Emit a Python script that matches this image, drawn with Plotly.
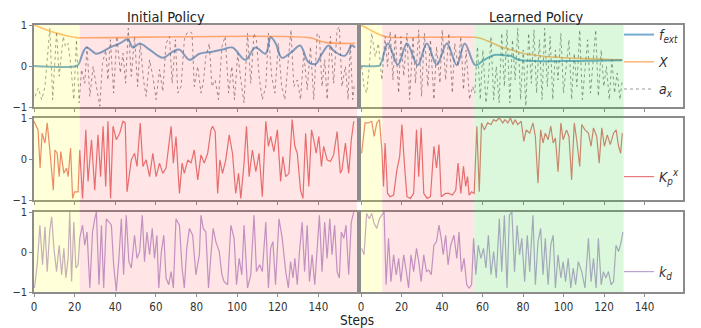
import plotly.graph_objects as go
from plotly.subplots import make_subplots

# ---------------- data ----------------
# Initial policy
init_fext_steps = [0, 21, 22, 25.8, 30.7, 37.3, 42.2, 46.2, 48.7, 52, 56.9, 63.4, 68.3, 71.6, 76.5, 81.4, 87.9,
                   92.8, 97.7, 104, 109, 114, 116.5, 119, 122, 127, 131, 135, 138.6, 141.8, 145, 148, 153, 156.5, 158]
init_fext = [0, 0, 0.05, 0.45, 0.3, 0.45, 0.55, 0.65, 0.45, 0.55, 0.4, 0.2, 0.35, 0.4, 0.15, 0.3, 0.35,
             0.4, 0.45, 0.15, 0.45, 0.3, 0.7, 0.55, 0.2, 0.35, 0.5, 0.1, 0.05, 0.3, 0.5, 0.35, 0.25, 0.5, 0.45]

init_X_steps = [0, 4, 8, 12, 16, 20, 22, 136, 140, 144, 158]
init_X = [1.0, 0.92, 0.85, 0.79, 0.74, 0.70, 0.69, 0.69, 0.62, 0.57, 0.55]

init_ax_steps = [0.5, 2.1, 3.8, 5.4, 7.8, 9.2, 11.1, 12.4, 14.4, 15.5, 16.8, 18, 19.6, 20.9, 22.2, 23.4, 25, 26.1,
                 27.5, 29.1, 30.7, 32.4, 33.7, 35.3, 36.4, 37.6, 39.2, 40.8, 42.5, 43.8, 45.1, 46.4, 47.9, 49.5,
                 51, 52.3, 53.9, 55.2, 56.9, 58.5, 60.1, 61.8, 63.4, 65, 66.7, 68, 69.6, 70.8, 72.4, 74, 75.2,
                 76.5, 77.8, 78.9, 80.6, 82.2, 83.3, 84.6, 86.3, 87.6, 89.2, 90.8, 92.5, 94.1, 95.8, 97.4, 98.7,
                 100.3, 101.8, 103.4, 105.1, 106.7, 108.3, 109.5, 110.8, 112.4, 114.1, 115.4, 117, 118.6, 120.3,
                 121.9, 123.5, 125.2, 126.5, 127.9, 129.6, 131.2, 132.8, 134.5, 136.1, 137.7, 139.4, 140.5, 141.8,
                 143.1, 144.3, 145.9, 147.5, 149.2, 150.3, 151.6, 153.3, 154.6, 155.7, 156.9, 157.8]
init_ax = [-0.74, -0.54, -0.82, -0.5, 0.92, -0.82, 0.84, -0.25, 0.72, 0.47, 0.55, 0.07, -0.82, 0.64, -0.9, -0.09,
           -0.42, 0.47, -0.74, -0.01, -0.5, -0.98, 0.07, 0.39, -0.34, 0.64, -0.66, 0.72, -0.17, 0.31, -0.42, 0.92,
           -0.25, 0.72, -0.5, 0.55, -0.34, -0.74, 0.15, -0.25, -0.82, -0.09, -0.62, 0.55, 0.72, -0.42, 0.64, -0.66,
           -0.5, 0.64, 0.8, 0.84, 0.8, -0.5, -0.01, -0.66, -0.42, 0.23, 0.55, -0.5, -0.34, -0.82, 0.47, 0.72, -0.66,
           -0.01, -0.82, 0.31, -0.34, -0.9, 0.8, -0.42, 0.8, 0.64, -0.25, -0.82, -0.5, 0.8, -0.25, -0.66, 0.55,
           -0.5, -0.82, 0.23, 0.88, -0.5, -0.34, -0.82, 0.31, -0.58, 0.47, -0.82, 0.8, 0.72, -0.5, 0.15, -0.82,
           0.72, -0.42, 0.88, 0.96, -0.5, -0.01, -0.82, 0.55, -0.82, -0.42]

init_kp_steps = [0, 2, 3, 4, 5.4, 6.5, 7.8, 9.5, 10.3, 11.4, 12.4, 13.2, 14.7, 16, 16.8, 18, 19, 20, 21.7, 22.5,
                 23.9, 25.5, 26.6, 28.3, 29.9, 31.5, 32.8, 34, 35.3, 36.4, 37.7, 38.9, 40.5, 42.2, 43.8, 44.9, 45.8,
                 47.9, 49.5, 50.7, 52.3, 53.6, 55.2, 56.9, 58.5, 60.1, 61.8, 63.4, 65, 67.5, 68.6, 69.9, 71.6, 72.9,
                 74, 75.7, 77.3, 78.9, 80.6, 82.2, 83.8, 85.5, 87.1, 87.9, 89.2, 90.4, 91.5, 92.8, 94.4, 96.1, 97.7,
                 99.3, 100.7, 101.8, 103.4, 104.6, 105.9, 107.5, 109.2, 110.8, 112.4, 114.1, 115.4, 116.5, 118.1,
                 119.8, 121.4, 122.5, 123.9, 125.5, 127.1, 128.4, 129.6, 131.2, 132.4, 133.7, 135.3, 136.6, 137.7,
                 138.9, 140.2, 141.5, 142.6, 144.3, 145.9, 147.5, 149.2, 150.8, 151.6, 153.3, 154.9, 156.2, 157.4]
init_kp = [0.92, 0.71, -0.22, 0.63, 0.39, 0.88, 0.22, -0.76, 0.22, 0.14, -0.43, 0.18, -0.35, -0.22, -0.43, 0.27,
           -0.96, -0.80, -0.80, 0.22, -0.96, 0.71, -0.55, 0.47, -0.76, 0.59, -0.43, 0.80, -0.67, 0.92, -0.96, 0.80,
           0.47, 0.63, 0.92, 0.88, -0.80, -0.02, 0.14, -0.18, 0.88, -0.18, -0.02, -0.43, 0.14, -0.43, -0.10, -0.35,
           -0.22, 0.80, -0.10, 0.55, -0.84, -0.10, -0.35, -0.02, -0.10, 0.22, -0.51, 0.10, -0.10, 0.14, 0.71, 0.80,
           0.67, -0.84, -0.02, -0.35, -0.02, 0.59, 0.14, -0.84, -0.35, -0.96, -0.10, 0.80, -0.43, 0.22, -0.31, 0.14,
           -0.92, 0.92, 0.31, 0.55, 0.18, 0.71, -0.55, 0.06, -0.43, -0.35, 0.96, 0.31, 0.14, -0.76, -0.96, 0.63,
           -0.67, 0.71, 0.47, 0.14, 0.55, -0.18, 0.31, -0.02, -0.06, 0.10, 0.67, -0.35, -0.27, 0.39, -0.35, 0.47, 0.92]

init_kd_steps = [0.2, 1.6, 2.9, 4.2, 5.4, 6.5, 7.8, 8.7, 9.8, 11.1, 12.4, 13.6, 14.7, 15.7, 16.8, 17.6, 18.5, 19.6,
                 20.6, 21.7, 22.5, 23.9, 25, 26.1, 27.5, 28.8, 29.9, 30.7, 32, 33.2, 34.3, 35.6, 36.9, 38.1, 39.2,
                 40.5, 41.8, 43, 44.1, 45.4, 46.7, 47.9, 49.5, 50.7, 52, 53.3, 54.4, 55.6, 56.9, 58.2, 59.3, 60.5,
                 61.4, 62.7, 63.9, 65, 66.3, 67.5, 68.6, 69.9, 71.6, 72.9, 74, 75.2, 76.5, 78.1, 79.7, 81.4, 82.2,
                 83.3, 84.6, 85.9, 87.1, 88.2, 89.5, 91.2, 92.5, 93.6, 95.3, 96.9, 98.5, 99.7, 101, 102.3, 103.4,
                 105.1, 106.7, 108.3, 109.5, 111.1, 112.4, 114.1, 115.4, 116.5, 117.6, 118.9, 120.6, 122.2, 123.9,
                 125.2, 126.3, 127.5, 128.4, 129.6, 130.7, 132, 133.2, 134.5, 135.6, 136.9, 138.2, 139.4, 140.5,
                 141.8, 143.1, 144.3, 145.6, 146.7, 148, 149.2, 150.3, 151.3, 152.5, 153.6, 154.9, 156.2, 157.4]
init_kd = [-0.90, -0.32, 0.67, -0.32, 0.63, -0.49, 0.55, 0.88, 0.09, -0.49, 0.17, -0.57, 0.09, -0.65, -0.16, 1.0,
           -0.74, 0.75, -0.40, -0.32, 0.34, 0.67, 0.17, 0.50, -0.90, 0.50, 0.83, 1.0, -0.82, 0.67, -0.90, 0.83, 0.75,
           0.67, -0.32, -0.98, -0.16, 0.83, -0.57, 0.92, -0.24, -0.40, 0.42, -0.16, 0.01, 0.92, -0.24, 0.50, -0.07,
           0.59, -0.16, 0.42, -0.90, 0.01, 0.42, -0.65, -0.82, -0.49, -0.90, 0.83, 0.67, -0.40, -0.90, 0.09, 0.59,
           0.42, -0.57, -0.07, 0.92, 0.59, 0.50, -0.90, -0.07, 0.59, 0.26, 0.01, -0.57, -0.74, -0.82, 0.67, 0.34,
           -0.82, -0.16, -0.57, 0.67, -0.90, -0.57, 0.92, -0.49, -0.32, -0.49, 0.75, -0.90, 0.09, 0.26, -0.82, 0.83,
           0.34, -0.49, -0.90, -0.24, -0.65, -0.16, -0.82, 0.01, 0.75, -0.49, 0.67, -0.74, -0.07, -0.82, 0.17, 0.92,
           -0.49, 0.75, -0.16, 0.83, -0.07, 0.67, -0.49, -0.65, 0.50, 0.34, 0.67, -0.57, 0.75, 1.0]

# Learned policy
learn_fext_steps = [0, 8, 9.4, 13.3, 18.2, 22.7, 28, 32.5, 37.4, 42.4, 47.3, 51.2, 56.5, 60.9, 65.8, 70.8, 74.1,
                    77.4, 85.7, 100, 115, 129]
learn_fext = [0, 0, 0.02, 0.55, 0.03, 0.55, 0.02, 0.55, 0.03, 0.55, 0.02, 0.55, 0.02, 0.15, 0.27, 0.26, 0.24,
              0.16, 0.12, 0.12, 0.13, 0.14]

learn_X_steps = [0, 3, 6, 9, 12, 14, 56, 60, 64, 70, 75, 81, 88, 94, 110, 129]
learn_X = [1.0, 0.92, 0.84, 0.77, 0.72, 0.70, 0.70, 0.66, 0.58, 0.45, 0.38, 0.30, 0.25, 0.22, 0.18, 0.15]

learn_ax_steps = [0.3, 1.5, 2.8, 4.1, 5.3, 7, 8.6, 10.3, 11.9, 13.1, 14.4, 15.8, 16.9, 18.6, 19.7, 21.1, 22.7, 24,
                  25.7, 26.9, 28.5, 29.9, 31.3, 33, 34.3, 36, 37.3, 39, 40.1, 41.8, 43.4, 45.1, 46.3, 47.9, 49.3,
                  50.6, 51.9, 53.6, 55.1, 56.2, 57.5, 58.9, 60.2, 61.7, 62.9, 64.2, 65.5, 66.8, 68.2, 69.5, 70.8,
                  72.1, 73.5, 74.8, 76.1, 77.4, 78.8, 80.1, 81.4, 82.8, 84.1, 85.4, 86.7, 88.1, 89.4, 90.7, 92,
                  93.4, 94.7, 96, 97.3, 98.7, 100, 101.3, 102.7, 104, 105.3, 106.6, 108, 109.3, 110.6, 111.9, 113.3,
                  114.6, 115.9, 117.2, 118.6, 119.9, 121.2, 122.6, 123.9, 125.2, 126.5, 127.9, 129]
learn_ax = [-0.01, -0.5, -0.66, -0.01, 0.8, 0.23, 0.55, -0.34, 0.72, -0.01, 0.84, -0.34, 0.8, -0.66, 0.72, -0.25,
            0.8, -0.82, 0.72, -0.42, 0.88, -0.74, 0.8, -0.5, 0.64, -0.82, 0.47, -0.42, 0.88, -0.34, 0.8, -0.66,
            0.55, -0.01, 0.72, -0.58, 0.39, -0.82, -0.5, -0.66, 0.47, -0.82, 0.39, -0.9, -0.34, 0.72, -0.82, -0.01,
            -0.9, 0.8, -0.5, 0.88, -0.9, 0.64, -0.34, 0.92, -0.82, 0.39, -0.98, 0.8, -0.42, 0.88, -0.66, 0.64,
            -0.82, 0.92, -0.5, 0.72, -0.82, 0.39, -0.34, 0.8, -0.66, -0.01, 0.64, -0.82, 0.31, -0.5, 0.88, -0.82,
            -0.01, 0.64, -0.66, 0.15, 0.88, -0.74, 0.39, -0.5, -0.01, -0.82, 0.15, -0.66, -0.17, -0.82, -0.34]

learn_kp_steps = [0.3, 2, 3.6, 5.3, 6.5, 7.8, 9.1, 10.3, 11.1, 11.9, 13.1, 14.4, 16.1, 17.7, 19.1, 20.2, 21.4, 22.7,
                  24.4, 26, 27.4, 28.5, 29.7, 31, 32.7, 34.3, 36, 37.3, 38.5, 39.6, 41.8, 43.4, 45.1, 46.8, 47.9,
                  49.3, 50.6, 51.7, 52.6, 53.4, 54.6, 55.9, 57.2, 58.4, 59.5, 60.9, 62.5, 64.2, 65.5, 66.7, 68.3, 70,
                  71.1, 72.5, 73.8, 75, 76.1, 77.4, 79.1, 80.4, 81.6, 83.3, 84.9, 86.1, 87.4, 88.7, 89.9, 91, 92.4,
                  93.7, 94.9, 96, 97.3, 98.7, 99.8, 101.5, 102.7, 104, 105.3, 106.5, 108, 109, 110.6, 112.3, 113.6,
                  114.8, 116.4, 117.6, 118.9, 120.2, 121.6, 123.1, 124.7, 126, 127.2, 128.2, 129]
learn_kp = [0.14, 0.88, 0.88, 0.92, 0.55, 0.88, 0.96, 0.22, -0.67, 0.39, -0.84, -0.92, -0.88, -0.27, 0.06, 0.84,
            -0.10, -0.92, -0.96, -0.84, 0.71, -0.43, 0.76, -0.84, -0.96, -0.92, 0.31, -0.22, 0.35, -0.92, -0.84,
            -0.84, -0.88, -0.76, -0.10, -0.84, -0.18, -0.67, -0.43, -0.88, -0.80, -0.84, 0.80, -0.80, 0.88, 0.71,
            0.88, 0.84, 0.96, 0.92, 1.0, 0.88, 0.96, 0.88, 1.0, 0.84, 0.96, 0.84, 0.92, 0.43, 0.71, 0.63, 0.88, 0.55,
            -0.59, 0.71, 0.39, 0.63, 0.47, 0.80, 0.39, 0.51, -0.31, 0.88, 0.47, 0.71, 0.55, -0.51, 0.88, 0.47, -0.18,
            0.84, 0.71, 0.63, 0.31, 0.76, 0.55, -0.10, 0.76, 0.31, 0.59, 0.35, 0.63, 0.71, 0.31, 0.14, 0.63]

learn_kd_steps = [0.3, 1.5, 2.8, 4.1, 5.3, 6.5, 7.8, 9.1, 10.3, 11.4, 12.4, 13.6, 14.8, 16.1, 17.4, 18.6, 19.7,
                  21.1, 22.4, 23.5, 24.7, 26, 27.4, 28.5, 29.7, 31, 32.3, 33.5, 34.7, 36, 37.3, 38.5, 39.6, 40.6,
                  41.8, 43, 44.3, 45.9, 47.3, 48.4, 49.6, 50.9, 52.2, 53.4, 54.6, 55.6, 56.7, 57.9, 59.2, 60.5,
                  61.7, 62.9, 64.2, 65.5, 66.8, 68.3, 69.5, 70.8, 72.1, 73.3, 74.5, 75.8, 77.1, 78.3, 79.4, 80.8,
                  82.1, 83.3, 84.9, 86.1, 87.4, 88.7, 89.9, 91, 92.4, 93.7, 94.9, 96, 97.3, 98.7, 99.8, 101, 102.3,
                  103.6, 104.8, 106, 107.3, 109, 110.6, 112.3, 113.6, 114.8, 116.1, 117.2, 118.6, 119.7, 120.9,
                  122.2, 123.5, 124.7, 125.9, 127.2, 128.5, 129.3]
learn_kd = [0.09, -0.07, 0.96, 0.83, 0.96, 0.71, 0.59, 0.83, 0.92, 1.0, -0.82, 0.34, -0.74, -0.07, -0.57, -0.16,
            -0.74, -0.07, -0.49, -0.90, -0.07, -0.49, 0.09, -0.24, -0.74, -0.07, -0.49, -0.45, -0.57, 0.17, 0.26,
            0.67, 0.34, -0.07, 0.42, -0.32, 0.17, 0.42, -0.16, 0.50, -0.49, -0.16, -0.82, -0.90, -0.82, 0.34, -0.57,
            0.17, -0.16, 0.09, -0.40, 0.42, -0.57, 0.01, -0.65, 0.83, -0.49, 0.92, -0.90, 0.92, 1.0, -0.49, 0.67,
            -0.07, 0.34, -0.74, 0.42, -0.49, 0.92, -0.82, 0.26, 0.59, -0.57, 0.34, -0.82, 0.17, 0.42, -0.90, -0.07,
            -0.65, -0.24, -0.74, -0.16, -0.90, -0.40, -0.82, -0.24, -0.49, -0.90, 0.34, -0.74, -0.16, -0.90, 0.34,
            -0.82, -0.49, -0.65, -0.49, -0.82, -0.74, 0.17, 0.01, 0.26, 0.50]

# phase boundaries (steps)
init_phases = [(0, 22.5, "yellow"), (22.5, 159, "pink")]
learn_phases = [(0, 10.5, "yellow"), (10.5, 56, "pink"), (56, 129.7, "green")]

x_ticks = [0, 20, 40, 60, 80, 100, 120, 140]
y_ticks = [-1, 0, 1]
x_range = [0, 159]

# ---------------- styling ----------------
PAGE_OFF = 8                      # default page margin of the html body
W, H = 701 - PAGE_OFF, 328 - PAGE_OFF
COL_FEXT = "rgba(31,119,180,0.62)"
COL_X = "rgba(255,127,14,0.55)"
COL_AX = "rgba(90,90,90,0.62)"
COL_KP = "rgba(214,39,40,0.62)"
COL_KD = "rgba(148,103,189,0.62)"
PHASE_FILL = {"yellow": "rgba(255,255,0,0.15)", "pink": "rgba(255,0,0,0.10)", "green": "rgba(40,210,40,0.16)"}
FRAME = "#8c8c8c"
FONT = "DejaVu Sans Condensed, Liberation Sans Narrow, Liberation Sans, sans-serif"

fig = make_subplots(rows=3, cols=2)

def px_x(p):
    return (p - PAGE_OFF) / W

def px_y(p):
    return 1 - (p - PAGE_OFF) / H

col_dom = [[px_x(34), px_x(357)], [px_x(361), px_x(683)]]
row_dom = [[px_y(107), px_y(25)], [px_y(200), px_y(118)], [px_y(292), px_y(212)]]

def add(x, y, row, col, color, width, name, legend, dash="solid", shape="linear", rank=None, show=False):
    fig.add_trace(go.Scatter(x=x, y=y, mode="lines", line=dict(color=color, width=width, dash=dash, shape=shape),
                             name=name, showlegend=show, legend=legend, legendgroup=name,
                             legendrank=rank if rank is not None else 1000, hoverinfo="skip"),
                  row=row, col=col)

# initial policy
add(init_ax_steps, init_ax, 1, 1, COL_AX, 1, "ax", "legend", dash="dot")
add(init_X_steps, init_X, 1, 1, COL_X, 1.6, "X", "legend", shape="spline")
add(init_fext_steps, init_fext, 1, 1, COL_FEXT, 2, "fext", "legend", shape="spline")
add(init_kp_steps, init_kp, 2, 1, COL_KP, 1.2, "kp", "legend2")
add(init_kd_steps, init_kd, 3, 1, COL_KD, 1.2, "kd", "legend3")
# learned policy (shows legends)
add(learn_ax_steps, learn_ax, 1, 2, COL_AX, 1, "<i>a<sub>x</sub></i>", "legend", dash="dot", rank=3, show=True)
add(learn_X_steps, learn_X, 1, 2, COL_X, 1.6, "<i>X</i>", "legend", shape="spline", rank=2, show=True)
add(learn_fext_steps, learn_fext, 1, 2, COL_FEXT, 2, "<i>f<sub>ext</sub></i>", "legend", shape="spline", rank=1, show=True)
add(learn_kp_steps, learn_kp, 2, 2, COL_KP, 1.2, "<i>K<sub>p</sub><sup>x</sup></i>", "legend2", show=True)
add(learn_kd_steps, learn_kd, 3, 2, COL_KD, 1.2, "<i>k<sub>d</sub></i>", "legend3", show=True)

# axes
for r in range(1, 4):
    for c in range(1, 3):
        fig.update_xaxes(row=r, col=c, domain=col_dom[c - 1], range=x_range, tickvals=x_ticks,
                         showticklabels=(r == 3), ticks="outside", ticklen=3, tickcolor=FRAME,
                         showline=True, mirror=True, linecolor=FRAME, linewidth=1.5, showgrid=False,
                         zeroline=False, automargin=False, tickfont=dict(family=FONT, size=11.5, color="#333"))
        fig.update_yaxes(row=r, col=c, domain=row_dom[r - 1], range=[-1, 1], tickvals=y_ticks,
                         showticklabels=(c == 1), ticks="outside" if c == 1 else "", ticklen=3, tickcolor=FRAME,
                         showline=True, mirror=True, linecolor=FRAME, linewidth=1.5, showgrid=False,
                         zeroline=False, automargin=False, tickfont=dict(family=FONT, size=11, color="#333"))

# phase shading spanning all three rows of each column
y_lo, y_hi = row_dom[2][0], row_dom[0][1]
for phases, xref in ((init_phases, "x"), (learn_phases, "x2")):
    for x0, x1, c in phases:
        fig.add_shape(type="rect", xref=xref, yref="paper", x0=x0, x1=x1, y0=y_lo, y1=y_hi,
                      fillcolor=PHASE_FILL[c], line=dict(width=0), layer="above")

# titles
for txt, xp, yp, size in (("Initial Policy", 166, 16.5, 14.5), ("Learned Policy", 536, 16.5, 14.5),
                          ("Steps", 357, 320, 13.5)):
    fig.add_annotation(text=txt, x=px_x(xp), y=px_y(yp), xref="paper", yref="paper", xanchor="center",
                       yanchor="middle", showarrow=False, font=dict(family=FONT, size=size, color="#222"))

leg_common = dict(bgcolor="rgba(0,0,0,0)", borderwidth=0, xanchor="left", yanchor="middle",
                  font=dict(family=FONT, size=14, color="#333"), itemwidth=30)
fig.update_layout(
    width=W, height=H, margin=dict(l=0, r=0, t=0, b=0, autoexpand=False),
    paper_bgcolor="white", plot_bgcolor="white",
    legend=dict(x=px_x(619), y=px_y(62), tracegroupgap=6, **leg_common),
    legend2=dict(x=px_x(619), y=px_y(177), **leg_common),
    legend3=dict(x=px_x(619), y=px_y(272), **leg_common),
)

fig.write_html("out.html")
